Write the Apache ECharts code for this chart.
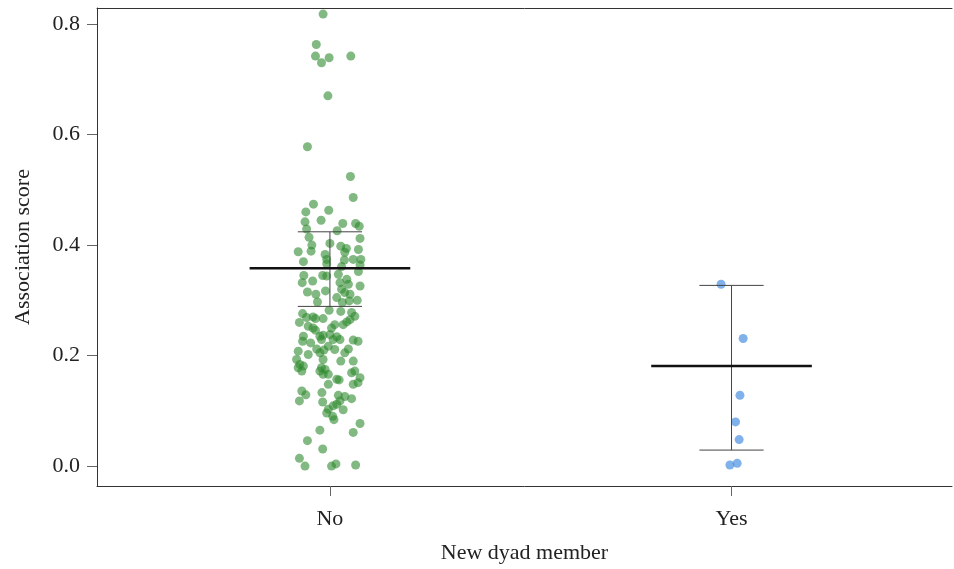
<!DOCTYPE html>
<html>
<head>
<meta charset="utf-8">
<script src="https://cdn.jsdelivr.net/npm/echarts@6/dist/echarts.min.js"></script>
<style>
  html, body { margin: 0; padding: 0; background: #fff; }
  #chart { width: 954px; height: 569px; }
</style>
</head>
<body>
<div id="chart"></div>
<script>
// groups on the x axis
const groupNames = ['No', 'Yes']
const groupMean = [0.358, 0.181]
const groupLower = [0.289, 0.029]
const groupUpper = [0.424, 0.327]

// "No" group: horizontal jitter (in category units) and association score
const noJitter = [
  -0.017, -0.034, -0.036, -0.002, -0.021, 0.052, -0.005, -0.056,
  0.051, 0.058, -0.041, -0.060, -0.003, -0.062, -0.022, 0.032, 0.064, 0.073,
  -0.058, 0.018, 0.075, -0.052, -0.045, 0.000, -0.079, -0.047, 0.027, 0.041,
  0.037, 0.071, -0.012, -0.008, -0.066, 0.058, 0.036, 0.077, 0.075, -0.008, 0.029,
  0.071, -0.065, -0.069, -0.043, -0.018, -0.008, 0.021, 0.042, 0.046, 0.025,
  0.029, 0.075, -0.056, -0.035, -0.011, 0.017, 0.037, 0.050, -0.031, 0.068,
  0.048, 0.031, -0.002, 0.027, -0.068, -0.042, -0.036, -0.058, -0.017, 0.054,
  0.062, 0.050, 0.042, 0.033, 0.012, 0.004, -0.076, -0.054, -0.042, -0.036,
  -0.025, -0.021, -0.017, -0.066, -0.068, 0.000, 0.017, 0.025, 0.008, 0.070,
  0.058, -0.048, -0.033, -0.015, -0.004, -0.079, -0.083, -0.054, 0.012, 0.046,
  0.037, -0.017, -0.025, 0.027, 0.058, -0.066, -0.021,
  -0.075, -0.070, -0.079, -0.012, -0.025, -0.004, -0.017, 0.062, 0.054, 0.075,
  0.070, 0.058, -0.004, 0.017, 0.023, -0.070, -0.060, -0.076, -0.020, 0.021,
  0.037, 0.054, 0.025, 0.017, 0.008, -0.004, -0.008, 0.007, 0.010, 0.033,
  -0.018, 0.075, 0.058, -0.025, -0.056, -0.018, -0.076, -0.062, 0.004, 0.015, 0.064
]
const noScore = [
  0.818, 0.763, 0.742, 0.739, 0.730, 0.742, 0.670, 0.578,
  0.524, 0.486, 0.474, 0.460, 0.463, 0.442, 0.445, 0.439, 0.439, 0.434,
  0.429, 0.426, 0.412, 0.414, 0.400, 0.403, 0.388, 0.389, 0.398, 0.394,
  0.387, 0.392, 0.383, 0.374, 0.370, 0.374, 0.373, 0.374, 0.364, 0.366, 0.361,
  0.352, 0.345, 0.332, 0.335, 0.345, 0.344, 0.347, 0.338, 0.329, 0.332,
  0.320, 0.326, 0.315, 0.311, 0.317, 0.305, 0.314, 0.311, 0.297, 0.300,
  0.299, 0.296, 0.282, 0.280, 0.276, 0.270, 0.267, 0.269, 0.267, 0.278,
  0.271, 0.265, 0.261, 0.256, 0.256, 0.250, 0.260, 0.253, 0.250, 0.246,
  0.235, 0.229, 0.237, 0.235, 0.226, 0.238, 0.234, 0.229, 0.229, 0.226,
  0.228, 0.223, 0.212, 0.210, 0.217, 0.208, 0.193, 0.202, 0.211, 0.212,
  0.205, 0.193, 0.205, 0.190, 0.190, 0.181, 0.178,
  0.184, 0.172, 0.178, 0.175, 0.172, 0.166, 0.166, 0.172, 0.169, 0.160,
  0.151, 0.148, 0.148, 0.157, 0.156, 0.136, 0.129, 0.118, 0.133, 0.128,
  0.126, 0.122, 0.118, 0.112, 0.109, 0.103, 0.096, 0.090, 0.084, 0.102,
  0.116, 0.077, 0.061, 0.065, 0.046, 0.031, 0.014, 0.000, 0.000, 0.004, 0.002
]

// "Yes" group
const yesJitter = [-0.026, 0.029, 0.021, 0.010, 0.019, -0.004, 0.014]
const yesScore = [0.329, 0.231, 0.128, 0.080, 0.048, 0.002, 0.005]

const yTicks = [0, 0.2, 0.4, 0.6, 0.8]

const font = 'Liberation Serif'
const axisColor = '#333'

const noPoints = noScore.map((v, i) => [1 + noJitter[i], v])
const yesPoints = yesScore.map((v, i) => [2 + yesJitter[i], v])
const summary = groupNames.map((n, i) => [i + 1, groupMean[i], groupLower[i], groupUpper[i]])

const chart = echarts.init(document.getElementById('chart'))

function renderSummary(params, api) {
  const x = api.value(0)
  const m = api.value(1)
  const lo = api.value(2)
  const hi = api.value(3)
  const seg = (x1, y1, x2, y2, width, color) => {
    const a = api.coord([x1, y1])
    const b = api.coord([x2, y2])
    return {
      type: 'line',
      shape: { x1: a[0], y1: a[1], x2: b[0], y2: b[1] },
      style: { stroke: color, lineWidth: width }
    }
  }
  return {
    type: 'group',
    children: [
      seg(x, lo, x, hi, 1, '#444'),
      seg(x - 0.08, hi, x + 0.08, hi, 1, '#444'),
      seg(x - 0.08, lo, x + 0.08, lo, 1, '#444'),
      seg(x - 0.2, m, x + 0.2, m, 2.5, '#111')
    ]
  }
}

const option = {
  animation: false,
  grid: { left: 97, right: 2, top: 8, bottom: 82 },
  xAxis: [
    {
      type: 'value',
      min: 0.42,
      max: 2.549,
      name: 'New dyad member',
      nameLocation: 'middle',
      nameGap: 56,
      nameTextStyle: { fontFamily: font, fontSize: 22, color: '#222' },
      axisLine: { show: true, onZero: false, lineStyle: { color: axisColor, width: 1 } },
      axisTick: { show: true, length: 10, customValues: [1, 2], lineStyle: { color: '#666' } },
      axisLabel: {
        customValues: [1, 2],
        margin: 22,
        fontFamily: font,
        fontSize: 22,
        color: '#222',
        formatter: (v) => groupNames[Math.round(v) - 1]
      },
      splitLine: { show: false }
    },
    {
      type: 'value',
      position: 'top',
      min: 0.42,
      max: 2.549,
      axisLine: { show: true, onZero: false, lineStyle: { color: axisColor, width: 1 } },
      axisTick: { show: false },
      axisLabel: { show: false },
      splitLine: { show: false }
    }
  ],
  yAxis: {
    type: 'value',
    min: -0.036,
    max: 0.829,
    name: 'Association score',
    nameLocation: 'middle',
    nameGap: 63,
    nameTextStyle: { fontFamily: font, fontSize: 22, color: '#222' },
    axisLine: { show: true, onZero: false, lineStyle: { color: axisColor, width: 1 } },
    axisTick: { show: true, length: 10, customValues: yTicks, lineStyle: { color: '#666' } },
    axisLabel: {
      customValues: yTicks,
      margin: 17,
      fontFamily: font,
      fontSize: 22,
      color: '#222',
      formatter: (v) => v.toFixed(1)
    },
    splitLine: { show: false }
  },
  series: [
    {
      type: 'scatter',
      data: noPoints,
      symbolSize: 9,
      itemStyle: { color: 'rgb(46,139,46)', opacity: 0.6 },
      z: 2
    },
    {
      type: 'scatter',
      data: yesPoints,
      symbolSize: 9,
      itemStyle: { color: 'rgb(74,144,226)', opacity: 0.7 },
      z: 2
    },
    {
      type: 'custom',
      data: summary,
      encode: { x: 0, y: [1, 2, 3] },
      renderItem: renderSummary,
      z: 5
    }
  ]
}

chart.setOption(option)
</script>
</body>
</html>
